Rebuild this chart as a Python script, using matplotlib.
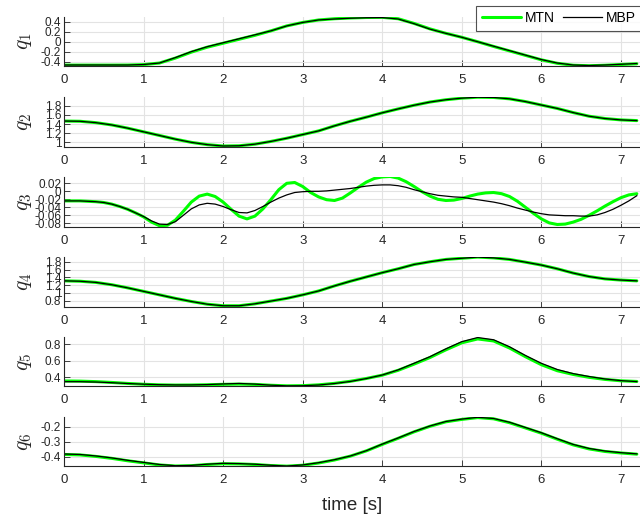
import numpy as np
import matplotlib
matplotlib.use("Agg")
import matplotlib.pyplot as plt
from matplotlib.ticker import FuncFormatter

plt.rcParams['font.family'] = ['Liberation Sans', 'DejaVu Sans']
plt.rcParams['mathtext.fontset'] = 'cm'

# sampling times [s]
t = np.round(np.arange(0, 7.21, 0.2), 2)      # 37 samples
t_q3 = np.round(np.arange(0, 7.21, 0.1), 2)   # 73 samples

q1_mbp = [-0.47, -0.47, -0.47, -0.47, -0.47, -0.46, -0.43, -0.32, -0.20, -0.10,
          -0.02, 0.06, 0.14, 0.22, 0.32, 0.39, 0.44, 0.46, 0.475, 0.485,
          0.488, 0.46, 0.365, 0.255, 0.17, 0.09, 0.0, -0.09, -0.18, -0.27,
          -0.36, -0.43, -0.47, -0.48, -0.47, -0.455, -0.44]
q1_mtn = [-0.472, -0.472, -0.472, -0.472, -0.471, -0.462, -0.43, -0.33, -0.21, -0.11,
          -0.03, 0.05, 0.13, 0.22, 0.32, 0.39, 0.44, 0.465, 0.48, 0.49,
          0.493, 0.465, 0.37, 0.26, 0.17, 0.09, 0.0, -0.095, -0.185, -0.275,
          -0.365, -0.435, -0.475, -0.485, -0.475, -0.46, -0.445]

q2_mbp = [1.465, 1.46, 1.43, 1.38, 1.31, 1.23, 1.15, 1.07, 1.00, 0.95,
          0.92, 0.925, 0.96, 1.02, 1.09, 1.17, 1.25, 1.36, 1.46, 1.55,
          1.645, 1.73, 1.81, 1.88, 1.93, 1.965, 1.985, 1.98, 1.95, 1.89,
          1.815, 1.74, 1.65, 1.57, 1.52, 1.49, 1.475]
q2_mtn = [1.465, 1.46, 1.43, 1.38, 1.31, 1.23, 1.15, 1.07, 1.00, 0.95,
          0.92, 0.925, 0.96, 1.02, 1.09, 1.17, 1.25, 1.36, 1.46, 1.55,
          1.645, 1.73, 1.81, 1.88, 1.93, 1.965, 1.985, 1.98, 1.95, 1.89,
          1.815, 1.74, 1.65, 1.57, 1.52, 1.49, 1.475]

q3_mbp = [-0.024, -0.024, -0.024, -0.025, -0.026, -0.028, -0.032, -0.038, -0.045, -0.054,
          -0.063, -0.074, -0.082, -0.083, -0.076, -0.060, -0.044, -0.034, -0.030, -0.032,
          -0.038, -0.046, -0.053, -0.054, -0.048, -0.038, -0.027, -0.017, -0.009, -0.003,
          -0.001, 0.0, 0.0, 0.001, 0.003, 0.005, 0.007, 0.010, 0.013, 0.015,
          0.016, 0.016, 0.014, 0.010, 0.004, -0.001, -0.006, -0.010, -0.012, -0.014,
          -0.015, -0.018, -0.021, -0.024, -0.027, -0.031, -0.036, -0.042, -0.047, -0.052,
          -0.056, -0.059, -0.060, -0.061, -0.061, -0.062, -0.062, -0.059, -0.053, -0.045,
          -0.035, -0.024, -0.011]
q3_mtn = [-0.024, -0.024, -0.024, -0.025, -0.026, -0.028, -0.032, -0.038, -0.045, -0.054,
          -0.064, -0.077, -0.086, -0.085, -0.072, -0.050, -0.027, -0.012, -0.007, -0.013,
          -0.027, -0.045, -0.062, -0.069, -0.062, -0.044, -0.021, 0.004, 0.020, 0.022,
          0.012, -0.003, -0.014, -0.021, -0.023, -0.017, -0.004, 0.010, 0.023, 0.032,
          0.036, 0.037, 0.033, 0.024, 0.012, -0.001, -0.012, -0.020, -0.023, -0.022,
          -0.018, -0.012, -0.007, -0.004, -0.003, -0.006, -0.013, -0.025, -0.040, -0.055,
          -0.069, -0.079, -0.083, -0.082, -0.077, -0.070, -0.060, -0.049, -0.037, -0.026,
          -0.016, -0.009, -0.006]

q4_mbp = [1.31, 1.30, 1.27, 1.21, 1.13, 1.04, 0.95, 0.86, 0.78, 0.71,
          0.67, 0.67, 0.72, 0.79, 0.86, 0.95, 1.05, 1.18, 1.30, 1.41,
          1.52, 1.62, 1.73, 1.80, 1.86, 1.89, 1.92, 1.90, 1.86, 1.79,
          1.715, 1.62, 1.51, 1.42, 1.36, 1.33, 1.31]
q4_mtn = [1.31, 1.30, 1.27, 1.21, 1.13, 1.04, 0.95, 0.86, 0.78, 0.71,
          0.67, 0.67, 0.72, 0.79, 0.86, 0.95, 1.05, 1.18, 1.30, 1.41,
          1.52, 1.62, 1.73, 1.80, 1.86, 1.89, 1.92, 1.90, 1.86, 1.79,
          1.715, 1.62, 1.51, 1.42, 1.36, 1.33, 1.31]

q5_mbp = [0.347, 0.347, 0.343, 0.335, 0.325, 0.317, 0.311, 0.308, 0.308, 0.312,
          0.320, 0.326, 0.318, 0.305, 0.297, 0.298, 0.307, 0.325, 0.350, 0.385,
          0.428, 0.490, 0.570, 0.650, 0.745, 0.832, 0.882, 0.855, 0.770, 0.665,
          0.570, 0.495, 0.445, 0.410, 0.380, 0.360, 0.348]
q5_mtn = [0.356, 0.354, 0.348, 0.338, 0.326, 0.316, 0.309, 0.306, 0.307, 0.310,
          0.315, 0.318, 0.314, 0.304, 0.297, 0.299, 0.309, 0.327, 0.352, 0.386,
          0.426, 0.485, 0.560, 0.640, 0.733, 0.818, 0.865, 0.840, 0.755, 0.650,
          0.553, 0.480, 0.435, 0.400, 0.375, 0.358, 0.350]

q6_mbp = [-0.382, -0.385, -0.395, -0.408, -0.424, -0.438, -0.452, -0.460, -0.458, -0.450,
          -0.444, -0.446, -0.450, -0.457, -0.462, -0.455, -0.440, -0.420, -0.395, -0.360,
          -0.316, -0.275, -0.232, -0.195, -0.165, -0.149, -0.137, -0.145, -0.170, -0.205,
          -0.240, -0.280, -0.318, -0.345, -0.362, -0.373, -0.381]
q6_mtn = [-0.385, -0.388, -0.398, -0.411, -0.427, -0.441, -0.455, -0.462, -0.460, -0.452,
          -0.447, -0.448, -0.452, -0.459, -0.463, -0.457, -0.442, -0.422, -0.396, -0.361,
          -0.318, -0.277, -0.234, -0.197, -0.167, -0.151, -0.139, -0.147, -0.173, -0.208,
          -0.243, -0.283, -0.321, -0.348, -0.365, -0.375, -0.383]

labels = [r'$q_1$', r'$q_2$', r'$q_3$', r'$q_4$', r'$q_5$', r'$q_6$']
series = [
    (t, q1_mtn, q1_mbp),
    (t, q2_mtn, q2_mbp),
    (t_q3, q3_mtn, q3_mbp),
    (t, q4_mtn, q4_mbp),
    (t, q5_mtn, q5_mbp),
    (t, q6_mtn, q6_mbp),
]
yticks = [
    [-0.4, -0.2, 0, 0.2, 0.4],
    [1, 1.2, 1.4, 1.6, 1.8],
    [-0.08, -0.06, -0.04, -0.02, 0, 0.02],
    [0.8, 1, 1.2, 1.4, 1.6, 1.8],
    [0.4, 0.6, 0.8],
    [-0.4, -0.3, -0.2],
]
ylims = [
    (-0.49, 0.50),
    (0.905, 1.99),
    (-0.0885, 0.0365),
    (0.646, 1.93),
    (0.295, 0.892),
    (-0.462, -0.133),
]
xticks = [0, 1, 2, 3, 4, 5, 6, 7]

# axes boxes in pixels: (top, bottom)
rows_px = [(17, 66), (97, 146.7), (176.7, 226.7), (256.7, 306.7), (336.7, 386), (416.7, 466)]
W, H = 640, 521
left_px = 64

fig = plt.figure(figsize=(W / 100, H / 100), dpi=100)
axis_col = '#262626'
fmt = FuncFormatter(lambda v, p: ('%g' % round(v, 6)))

handles = None
for i, ((tt, mtn, mbp), lab, yt, yl, (top, bot)) in enumerate(
        zip(series, labels, yticks, ylims, rows_px)):
    ax = fig.add_axes([left_px / W, 1 - bot / H, 1 - left_px / W, (bot - top) / H])
    l1, = ax.plot(tt, mtn, color='#00ff00', lw=2.2, label='MTN', solid_capstyle='round')
    l2, = ax.plot(tt, mbp, color='black', lw=0.9, label='MBP')
    handles = [l1, l2]
    ax.set_xlim(0, 7.24)
    ax.set_ylim(*yl)
    ax.set_xticks(xticks)
    ax.set_yticks(yt)
    ax.yaxis.set_major_formatter(fmt)
    ax.grid(True, color='#e3e3e3', lw=0.8)
    ax.set_axisbelow(True)
    for s in ('top', 'right'):
        ax.spines[s].set_visible(False)
    for s in ('left', 'bottom'):
        ax.spines[s].set_color(axis_col)
        ax.spines[s].set_linewidth(0.8)
    ax.tick_params(direction='in', length=4, width=0.6, colors=axis_col,
                   labelsize=9.5, pad=6)
    ax.tick_params(axis='y', labelsize=8.5, pad=2)
    ax.set_ylabel(lab, fontsize=15.5, color=axis_col)
    ax.yaxis.set_label_coords(-0.052, 0.5)

fig.text(352 / W, 1 - 505 / H, 'time [s]', ha='center', va='center',
         fontsize=13.5, color=axis_col)

leg = fig.legend(handles, ['MTN', 'MBP'], loc='upper right',
                 bbox_to_anchor=(1.003, 1 - 5.5 / H), ncol=2, fontsize=10,
                 frameon=True, fancybox=False, handlelength=2.8,
                 handletextpad=0.3, columnspacing=0.6, borderpad=0.4,
                 borderaxespad=0)
leg.get_frame().set_edgecolor(axis_col)
leg.get_frame().set_linewidth(0.8)

fig.savefig('out.png', dpi=100)
